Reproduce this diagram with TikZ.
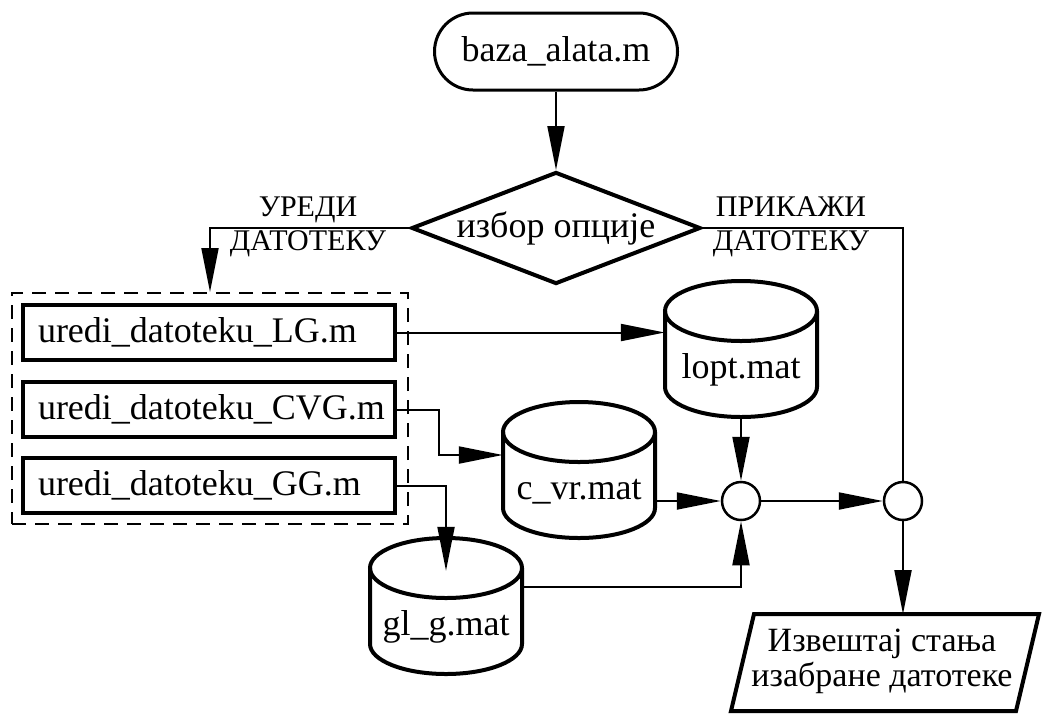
\documentclass[tikz,border=0pt]{standalone}
\usepackage{fontspec}
\setmainfont{Liberation Serif}
\usetikzlibrary{arrows.meta,shapes.geometric,shapes.misc}
\hfuzz=20pt
\newcommand\myfsA{\fontsize{36}{40}\selectfont}
\newcommand\myfsB{\fontsize{30}{34}\selectfont}
\newcommand\myfsC{\fontsize{34}{35}\selectfont}
\newcommand\mycyl[4]{%
  \node[cylnode] (#1) at (#2,#3+68) {#4};
  \draw[line width=4pt] (#2-76,#3+30) -- (#2-76,#3+106)
    arc[start angle=180,end angle=360,x radius=76pt,y radius=30pt] -- (#2+76,#3+30);
  \draw[line width=4pt] (#2,#3+30) ellipse[x radius=76pt,y radius=30pt];
}
\begin{document}
\begin{tikzpicture}[x=1pt,y=-1pt,
  conn/.style={line width=2pt,-{Triangle[length=44pt,width=17pt]}},
  plain/.style={line width=2pt},
  proc/.style={draw,line width=4pt,minimum width=372pt,minimum height=55pt,
    inner xsep=15pt,inner ysep=0pt,text width=342pt,align=left,font=\myfsA},
  cylnode/.style={minimum width=152pt,minimum height=136pt,inner sep=0pt,
    text height=58pt,text depth=0pt,font=\myfsA},
  junc/.style={draw,circle,line width=2.5pt,minimum size=38pt,inner sep=0pt},
  lab/.style={align=center,font=\myfsB,inner sep=0pt}]
\useasboundingbox (0,0) rectangle (1043,716);
\fill[white] (0,0) rectangle (1043,716);
% start / decision
\node[draw,rounded rectangle,line width=3pt,minimum width=243pt,minimum height=77pt,
  inner sep=0pt,font=\myfsA] (start) at (556,51.5) {baza\_alata.m};
\node[draw,diamond,aspect=2.58,line width=4pt,minimum width=289pt,minimum height=112pt,
  inner sep=0pt,font=\myfsA] (dec) at (556,228) {избор опције};
\node[lab] (lblL) at (308,227) {УРЕДИ\\ДАТОТЕКУ};
\node[lab] (lblR) at (791,227) {ПРИКАЖИ\\ДАТОТЕКУ};
% group of editors
\node[draw,line width=2pt,dash pattern=on 14pt off 9pt,minimum width=396pt,
  minimum height=231pt,inner sep=0pt] (grp) at (210,408.5) {};
\node[proc] (LG) at (209,332.5) {uredi\_datoteku\_LG.m};
\node[proc] (CVG) at (209,409.5) {uredi\_datoteku\_CVG.m};
\node[proc] (GG) at (209,485.5) {uredi\_datoteku\_GG.m};
% data files
\mycyl{lopt}{741}{281}{lopt.mat}
\mycyl{cvr}{579}{402}{c\_vr.mat}
\mycyl{glg}{446}{538}{gl\_g.mat}
% junctions
\node[junc] (c1) at (741,501) {};
\node[junc] (c2) at (903,501) {};
% report
\draw[line width=4pt] (754,614) -- (1039,614) -- (1016,711) -- (731,711) -- cycle;
\coordinate (reptop) at (903,614);
\node[align=center,font=\myfsC,inner sep=0pt] (rep) at (882,661) {Извештај стања\\изабране датотеке};
% connectors
\draw[conn] (start.south) -- (dec.north);
\draw[conn] (dec.west) -| (grp.north);
\draw[plain] (dec.east) -| (c2.north);
\draw[conn] (LG.east) -- (LG.east -| lopt.west);
\draw[conn] (CVG.east) -- ++(42,0) |- ([yshift=15pt]cvr.west);
\draw[conn] (GG.east) -| ([yshift=-33pt]glg.north);
\draw[conn] (lopt.south) -- (c1.north);
\draw[conn] (c1.west -| cvr.east) -- (c1.west);
\draw[conn] ([yshift=19pt]glg.east) -| (c1.south);
\draw[conn] (c1.east) -- (c2.west);
\draw[conn] (c2.south) -- (reptop);
\end{tikzpicture}
\end{document}
